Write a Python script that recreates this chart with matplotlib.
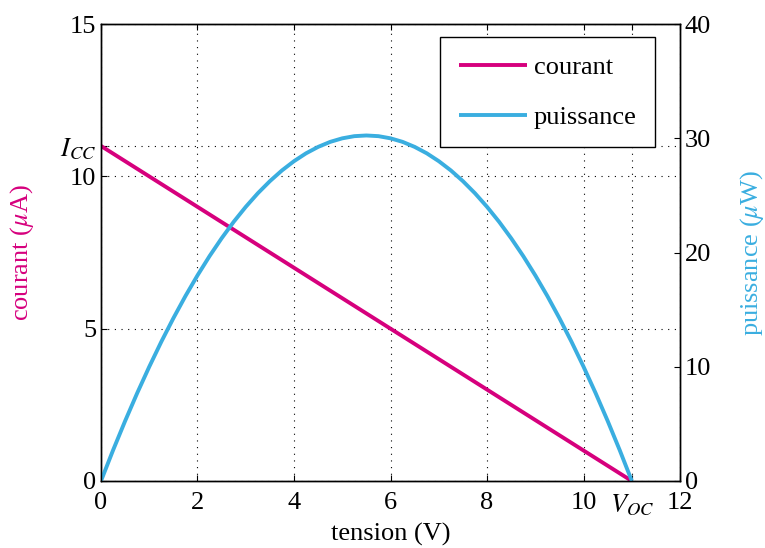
import matplotlib
matplotlib.use('Agg')
import matplotlib.pyplot as plt

# data
tension_courant = [0, 11]
courant = [11, 0]

tension = [0, 0.25, 0.5, 0.75, 1, 1.25, 1.5, 1.75, 2, 2.25, 2.5, 2.75,
           3, 3.25, 3.5, 3.75, 4, 4.25, 4.5, 4.75, 5, 5.25, 5.5,
           5.75, 6, 6.25, 6.5, 6.75, 7, 7.25, 7.5, 7.75, 8, 8.25, 8.5,
           8.75, 9, 9.25, 9.5, 9.75, 10, 10.25, 10.5, 10.75, 11]
puissance = [0, 2.69, 5.25, 7.69, 10, 12.19, 14.25, 16.19, 18, 19.69, 21.25, 22.69,
             24, 25.19, 26.25, 27.19, 28, 28.69, 29.25, 29.69, 30, 30.19, 30.25,
             30.19, 30, 29.69, 29.25, 28.69, 28, 27.19, 26.25, 25.19, 24, 22.69, 21.25,
             19.69, 18, 16.19, 14.25, 12.19, 10, 7.69, 5.25, 2.69, 0]

x_ticks = [0, 2, 4, 6, 8, 10, 11, 12]
x_ticklabels = ['0', '2', '4', '6', '8', '10', r'$V_{OC}$', '12']
y_ticks = [0, 5, 10, 11, 15]
y_ticklabels = ['0', '5', '10', r'$I_{CC}$', '15']
y2_ticks = [0, 10, 20, 30, 40]

c_courant = '#d6007d'
c_puiss = '#3aaee0'

plt.rcParams['font.family'] = ['Liberation Serif', 'DejaVu Serif']
plt.rcParams['mathtext.fontset'] = 'stix'
plt.rcParams['font.size'] = 19

fig = plt.figure(figsize=(7.65, 5.48), dpi=100)
ax = fig.add_axes([0.132, 0.1223, 0.757, 0.8337])
ax2 = ax.twinx()

l1, = ax.plot(tension_courant, courant, color=c_courant, lw=2.8,
              solid_capstyle='butt', label='courant')
l2, = ax2.plot(tension, puissance, color=c_puiss, lw=2.8,
               solid_capstyle='butt', label='puissance')

ax.set_xlim(0, 12)
ax.set_ylim(0, 15)
ax2.set_ylim(0, 40)
ax.set_xticks(x_ticks)
ax.set_xticklabels(x_ticklabels)
ax.set_yticks(y_ticks)
ax.set_yticklabels(y_ticklabels)
ax2.set_yticks(y2_ticks)

ax.grid(True, color='black', linestyle=(0, (1, 5)), linewidth=0.8)
ax.tick_params(direction='in', length=4, top=True, width=0.8)
ax.tick_params(axis='x', pad=8)
ax2.tick_params(direction='in', length=4, width=0.8)
for a in (ax, ax2):
    for s in a.spines.values():
        s.set_linewidth(1.0)

ax.set_xlabel('tension (V)', labelpad=4)
ax.set_ylabel(r'courant ($\mu$A)', color=c_courant, labelpad=17)
ax2.set_ylabel(r'puissance ($\mu$W)', color=c_puiss, labelpad=19)

leg = ax2.legend(handles=[l1, l2], loc='upper right',
                 bbox_to_anchor=(0.957, 0.9716), borderaxespad=0,
                 fancybox=False, framealpha=1, edgecolor='black',
                 handlelength=2.6, handletextpad=0.25,
                 labelspacing=1.0, borderpad=0.7)
leg.get_frame().set_linewidth(1.0)

fig.savefig('out.png', dpi=100)
